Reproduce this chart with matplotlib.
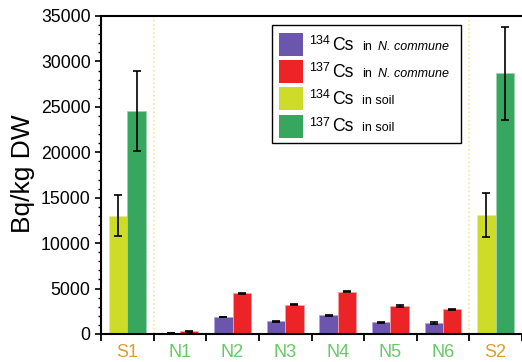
import numpy as np
import matplotlib
matplotlib.use("Agg")
import matplotlib.pyplot as plt
from matplotlib.patches import Rectangle

plt.rcParams['font.family'] = ['Liberation Sans', 'DejaVu Sans']

categories = ['S1', 'N1', 'N2', 'N3', 'N4', 'N5', 'N6', 'S2']
soil_idx = [0, 7]
nc_idx = [1, 2, 3, 4, 5, 6]

# soil samples
cs134_soil = [13000, 13100]
cs134_soil_err = [2250, 2400]
cs137_soil = [24500, 28700]
cs137_soil_err = [4400, 5100]

# N. commune samples
cs134_nc = [120, 1870, 1400, 2050, 1280, 1230]
cs134_nc_err = [30, 40, 50, 40, 80, 120]
cs137_nc = [300, 4480, 3230, 4660, 3050, 2720]
cs137_nc_err = [50, 60, 90, 60, 100, 80]

legend_labels = [('134', 'N. commune'), ('137', 'N. commune'),
                 ('134', 'soil'), ('137', 'soil')]

c_purple = '#6C55AD'
c_red = '#EC2428'
c_yellow = '#CEDB28'
c_green = '#37A760'
edge_purple = '#B3A6DA'
edge_red = '#F5A0A3'
edge_yellow = '#E4EC93'
edge_green = '#9BD3AF'

W, H = 522, 362
fig = plt.figure(figsize=(W / 100, H / 100), dpi=100)
ax = fig.add_axes([101 / W, 1 - 334 / H, 1 - 101 / W, (334 - 16) / H])

bw = 0.35
ekw = dict(ecolor='black', elinewidth=1.2, capsize=2.7, capthick=1.2)
ax.bar(np.array(soil_idx) - bw / 2, cs134_soil, bw, yerr=cs134_soil_err,
       color=c_yellow, edgecolor=edge_yellow, linewidth=0.6, error_kw=ekw, zorder=2)
ax.bar(np.array(soil_idx) + bw / 2, cs137_soil, bw, yerr=cs137_soil_err,
       color=c_green, edgecolor=edge_green, linewidth=0.6, error_kw=ekw, zorder=2)
ax.bar(np.array(nc_idx) - bw / 2, cs134_nc, bw, yerr=cs134_nc_err,
       color=c_purple, edgecolor=edge_purple, linewidth=0.6, error_kw=ekw, zorder=2)
ax.bar(np.array(nc_idx) + bw / 2, cs137_nc, bw, yerr=cs137_nc_err,
       color=c_red, edgecolor=edge_red, linewidth=0.6, error_kw=ekw, zorder=2)

# separators between soil and moss groups
for xv in [0.5, 6.5]:
    ax.axvline(xv, color='#F3E6A0', linestyle=(0, (1, 1.5)), linewidth=1.2, zorder=1)

ax.set_xlim(-0.5, 7.44)
ax.set_ylim(0, 35000)

ax.set_xticks(np.arange(-0.5, 8, 1.0))
ax.set_xticklabels([])
ax.set_xticks(range(len(categories)), minor=True)
ax.set_xticklabels(categories, minor=True, fontsize=13)
ax.tick_params(axis='x', which='major', direction='out', length=5, width=1.3)
ax.tick_params(axis='x', which='minor', length=0, pad=7)
for lab, cat in zip(ax.get_xticklabels(minor=True), categories):
    lab.set_color('#D9A030' if cat.startswith('S') else '#66C966')

ax.set_yticks(np.arange(0, 35001, 5000))
ax.set_yticks(np.arange(0, 35001, 1000), minor=True)
ax.tick_params(axis='y', which='major', direction='out', length=4.5, width=1.2,
               labelsize=12.7, pad=3)
ax.tick_params(axis='y', which='minor', direction='out', length=2.5, width=1.0)

ax.set_ylabel('Bq/kg DW', fontsize=19, va='center')
ax.yaxis.set_label_coords(-0.185, 0.503)

for s in ['left', 'bottom', 'top']:
    ax.spines[s].set_linewidth(1.5)
ax.spines['right'].set_visible(False)


# legend drawn by hand (mixed font sizes)
def fx(px):
    return px / W


def fy(py):
    return 1 - py / H


fig.patches.append(Rectangle((fx(272), fy(143)), fx(461) - fx(272), fy(25) - fy(143),
                             transform=fig.transFigure, fill=True, facecolor='white',
                             edgecolor='black', linewidth=1.0, zorder=5))
colors = [c_purple, c_red, c_yellow, c_green]
for i, (col, (iso, where)) in enumerate(zip(colors, legend_labels)):
    top = 33 + i * 27.2
    fig.patches.append(Rectangle((fx(279), fy(top + 23)), fx(303) - fx(279),
                                 fy(top) - fy(top + 23), transform=fig.transFigure,
                                 facecolor=col, edgecolor='none', zorder=6))
    base = top + 16.5
    fig.text(fx(309), fy(base - 5.5), iso, fontsize=9, va='baseline', zorder=7)
    fig.text(fx(332.5), fy(base), 'Cs', fontsize=12.7, va='baseline', zorder=7)
    if where == 'soil':
        fig.text(fx(362.5), fy(base), 'in soil', fontsize=9, va='baseline', zorder=7)
    else:
        fig.text(fx(362.5), fy(base), 'in', fontsize=9, va='baseline', zorder=7)
        fig.text(fx(378), fy(base), where, fontsize=9, style='italic',
                 va='baseline', zorder=7)

fig.savefig('out.png', dpi=100)
